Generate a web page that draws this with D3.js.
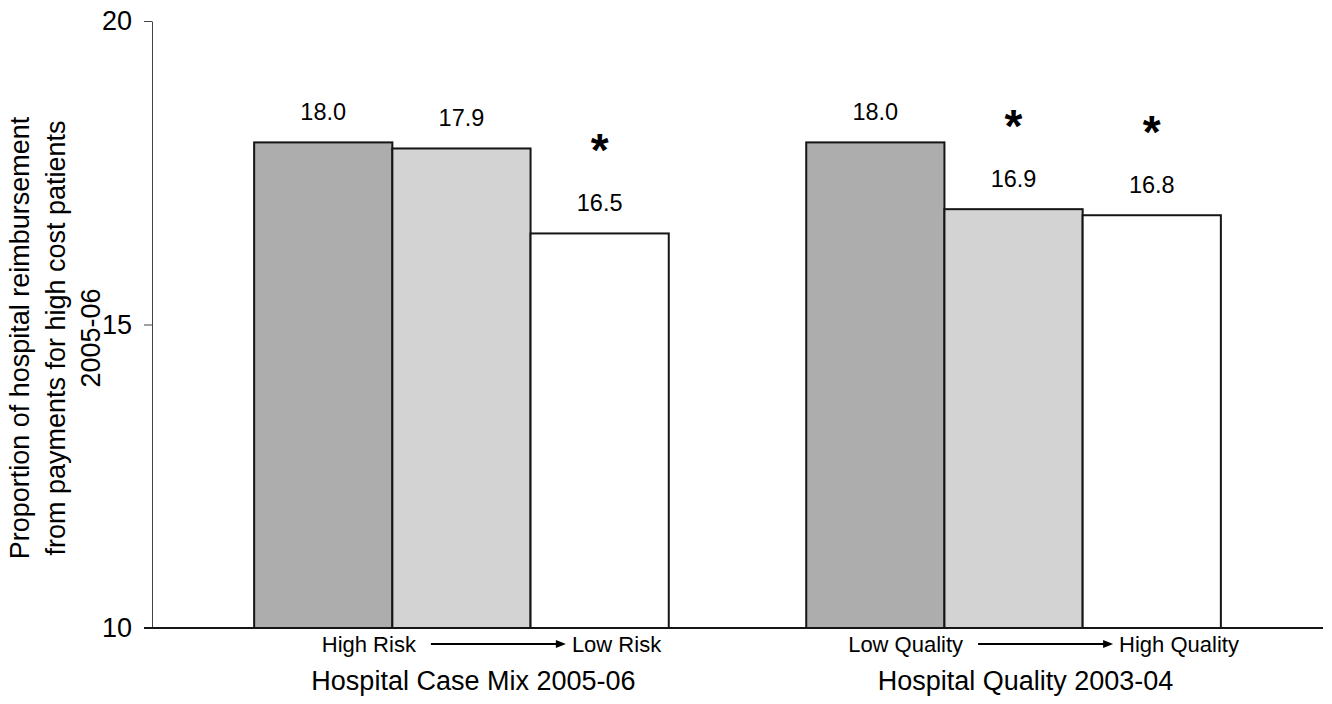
<!DOCTYPE html>
<html>
<head>
<meta charset="utf-8">
<script src="https://cdn.jsdelivr.net/npm/d3@7"></script>
<style>
  body { margin: 0; background: #fff; }
  text { font-family: "Liberation Sans", Arial, Helvetica, sans-serif; fill: #000; }
</style>
</head>
<body>
<script>
// chart data
let groups = ["Hospital Case Mix 2005-06", "Hospital Quality 2003-04"];
let lowLabels = ["High Risk", "Low Quality"];
let highLabels = ["Low Risk", "High Quality"];
let caseMixValues = [18.0, 17.9, 16.5];
let qualityValues = [18.0, 16.9, 16.8];
let caseMixSig = [false, false, true];
let qualitySig = [false, true, true];
let yTicks = [10, 15, 20];
let yTitle = ["Proportion of hospital reimbursement", "from payments for high cost patients", "2005-06"];
let fills = ["#adadad", "#d3d3d3", "#ffffff"];

let values = [caseMixValues, qualityValues];
let sig = [caseMixSig, qualitySig];

let width = 1332, height = 704;
let margin = { left: 152, right: 9, top: 21, bottom: 76 };

let svg = d3.select("body").append("svg").attr("width", width).attr("height", height);

let y = d3.scaleLinear()
    .domain([10, 20])
    .range([height - margin.bottom, margin.top]);
let x0 = d3.scaleBand()
    .domain(groups)
    .range([margin.left, width - margin.right])
    .paddingInner(0.249)
    .paddingOuter(0.185);
let x1 = d3.scaleBand()
    .domain([0, 1, 2])
    .range([0, x0.bandwidth()]);

// y axis
let yAxis = d3.axisLeft(y).tickValues(yTicks).tickSize(8).tickSizeOuter(0).tickPadding(12);
let yG = svg.append("g").attr("transform", `translate(${margin.left},0)`).call(yAxis);
yG.select(".domain").attr("stroke", "#444");
yG.selectAll(".tick line").attr("stroke", "#444");
yG.selectAll(".tick text").style("font-size", "27px").style("font-family", "Liberation Sans, Arial, sans-serif").attr("fill", "#000");

// y title
let titleG = svg.append("g").attr("transform", `translate(0,338) rotate(-90)`);
titleG.selectAll("text").data(yTitle).join("text")
    .attr("x", 0)
    .attr("y", (d, i) => 29 + i * 35.5)
    .attr("text-anchor", "middle")
    .style("font-size", "27px")
    .text(d => d);

// bars
groups.forEach((g, gi) => {
    let gG = svg.append("g").attr("transform", `translate(${x0(g)},0)`);
    gG.selectAll("rect").data(values[gi]).join("rect")
        .attr("x", (d, i) => x1(i))
        .attr("y", d => y(d))
        .attr("width", x1.bandwidth())
        .attr("height", d => y(10) - y(d))
        .attr("fill", (d, i) => fills[i])
        .attr("stroke", "#151515")
        .attr("stroke-width", 2);
    gG.selectAll("text.val").data(values[gi]).join("text")
        .attr("class", "val")
        .attr("x", (d, i) => x1(i) + x1.bandwidth() / 2)
        .attr("y", d => y(d) - 22)
        .attr("text-anchor", "middle")
        .style("font-size", "23.5px")
        .text(d => d.toFixed(1));
    gG.selectAll("text.sig").data(values[gi].map((d, i) => ({ d, i, s: sig[gi][i] })).filter(o => o.s)).join("text")
        .attr("class", "sig")
        .attr("x", o => x1(o.i) + x1.bandwidth() / 2)
        .attr("y", o => y(o.d) - 22 - 66 + 21)
        .attr("text-anchor", "middle")
        .style("font-size", "46px")
        .style("font-weight", "bold")
        .text("*");

    // low -> high row with arrow
    let cx = x0.bandwidth() / 2 + 30;
    let arrowLen = 135;
    let row = gG.append("g");
    let lo = row.append("text").attr("y", 652).style("font-size", "22px").text(lowLabels[gi]);
    let hi = row.append("text").attr("y", 652).style("font-size", "22px").text(highLabels[gi]);
    let lw = lo.node().getComputedTextLength();
    let hw = hi.node().getComputedTextLength();
    let total = lw + 15 + arrowLen + 6 + hw;
    let start = cx - total / 2;
    lo.attr("x", start);
    let ax = start + lw + 15;
    row.append("line")
        .attr("x1", ax).attr("x2", ax + arrowLen - 8)
        .attr("y1", 644).attr("y2", 644)
        .attr("stroke", "#000").attr("stroke-width", 2);
    row.append("path")
        .attr("d", `M${ax + arrowLen},644 L${ax + arrowLen - 10},640 L${ax + arrowLen - 10},648 Z`)
        .attr("fill", "#000");
    hi.attr("x", ax + arrowLen + 6);

    gG.append("text")
        .attr("x", x0.bandwidth() / 2 + 12)
        .attr("y", 690)
        .attr("text-anchor", "middle")
        .style("font-size", "27px")
        .text(g);
});

// baseline
svg.append("line")
    .attr("x1", margin.left - 8).attr("x2", width - margin.right)
    .attr("y1", y(10)).attr("y2", y(10))
    .attr("stroke", "#151515").attr("stroke-width", 2);
</script>
</body>
</html>
